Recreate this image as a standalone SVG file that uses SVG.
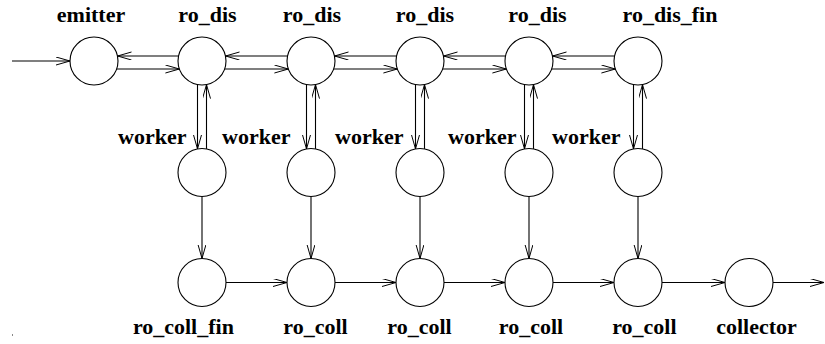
<svg xmlns="http://www.w3.org/2000/svg" width="825" height="344" viewBox="0 0 825 344">
<defs>
<marker id="ah" markerUnits="userSpaceOnUse" markerWidth="16" markerHeight="10" refX="14" refY="4" orient="auto">
<path d="M0,0 L14,4 L0,8" fill="none" stroke="#000" stroke-width="1"/>
</marker>
<style>
.n{fill:#fff;stroke:#000;stroke-width:1.1}
.c line{stroke:#000;stroke-width:1.1;marker-end:url(#ah)}
text{font-family:"Liberation Serif","Times New Roman",serif;font-weight:bold;font-size:22px;fill:#000}
.m{text-anchor:middle}
</style>
</defs>
<rect width="825" height="344" fill="#fff"/>
<g class="c" id="connectors">
<line x1="12" y1="61" x2="70" y2="61"/>
<line x1="178.5" y1="56" x2="117.5" y2="56"/>
<line x1="116.6" y1="69" x2="179.4" y2="69"/>
<line x1="287.5" y1="56" x2="225.5" y2="56"/>
<line x1="224.6" y1="69" x2="288.4" y2="69"/>
<line x1="396.5" y1="56" x2="334.5" y2="56"/>
<line x1="333.6" y1="69" x2="397.4" y2="69"/>
<line x1="505.5" y1="56" x2="443.5" y2="56"/>
<line x1="442.6" y1="69" x2="506.4" y2="69"/>
<line x1="614.5" y1="56" x2="552.5" y2="56"/>
<line x1="551.6" y1="69" x2="615.4" y2="69"/>
<line x1="197.5" y1="84.6" x2="197.5" y2="148.9"/>
<line x1="206.5" y1="148.9" x2="206.5" y2="84.6"/>
<line x1="306.5" y1="84.6" x2="306.5" y2="148.9"/>
<line x1="315.5" y1="148.9" x2="315.5" y2="84.6"/>
<line x1="415.5" y1="84.6" x2="415.5" y2="148.9"/>
<line x1="424.5" y1="148.9" x2="424.5" y2="84.6"/>
<line x1="524.5" y1="84.6" x2="524.5" y2="148.9"/>
<line x1="533.5" y1="148.9" x2="533.5" y2="84.6"/>
<line x1="633.5" y1="84.6" x2="633.5" y2="148.9"/>
<line x1="642.5" y1="148.9" x2="642.5" y2="84.6"/>
<line x1="202" y1="196.5" x2="202" y2="258.5"/>
<line x1="311" y1="196.5" x2="311" y2="258.5"/>
<line x1="420" y1="196.5" x2="420" y2="258.5"/>
<line x1="529" y1="196.5" x2="529" y2="258.5"/>
<line x1="638" y1="196.5" x2="638" y2="258.5"/>
<line x1="226" y1="282.5" x2="287" y2="282.5"/>
<line x1="335" y1="282.5" x2="396" y2="282.5"/>
<line x1="444" y1="282.5" x2="505" y2="282.5"/>
<line x1="553" y1="282.5" x2="614" y2="282.5"/>
<line x1="662" y1="282.5" x2="725" y2="282.5"/>
<line x1="773" y1="282.5" x2="824" y2="282.5"/>
</g>
<g id="emitter"><circle class="n" cx="94" cy="61" r="24"/><text class="m" x="91" y="22">emitter</text></g>
<g id="ro_dis1"><circle class="n" cx="202" cy="61" r="24"/><text class="m" x="207.5" y="22">ro_dis</text></g>
<g id="ro_dis2"><circle class="n" cx="311" cy="61" r="24"/><text class="m" x="312" y="22">ro_dis</text></g>
<g id="ro_dis3"><circle class="n" cx="420" cy="61" r="24"/><text class="m" x="425" y="22">ro_dis</text></g>
<g id="ro_dis4"><circle class="n" cx="529" cy="61" r="24"/><text class="m" x="537.5" y="22">ro_dis</text></g>
<g id="ro_dis_fin"><circle class="n" cx="638" cy="61" r="24"/><text class="m" x="670" y="22">ro_dis_fin</text></g>
<g id="worker1"><circle class="n" cx="202" cy="172.5" r="24"/><text x="118" y="144">worker</text></g>
<g id="worker2"><circle class="n" cx="311" cy="172.5" r="24"/><text x="222" y="144">worker</text></g>
<g id="worker3"><circle class="n" cx="420" cy="172.5" r="24"/><text x="335" y="144">worker</text></g>
<g id="worker4"><circle class="n" cx="529" cy="172.5" r="24"/><text x="448" y="144">worker</text></g>
<g id="worker5"><circle class="n" cx="638" cy="172.5" r="24"/><text x="552" y="144">worker</text></g>
<g id="ro_coll_fin"><circle class="n" cx="202" cy="282.5" r="24"/><text class="m" x="183.4" y="334">ro_coll_fin</text></g>
<g id="ro_coll1"><circle class="n" cx="311" cy="282.5" r="24"/><text class="m" x="315.5" y="334">ro_coll</text></g>
<g id="ro_coll2"><circle class="n" cx="420" cy="282.5" r="24"/><text class="m" x="419.5" y="334">ro_coll</text></g>
<g id="ro_coll3"><circle class="n" cx="529" cy="282.5" r="24"/><text class="m" x="531" y="334">ro_coll</text></g>
<g id="ro_coll4"><circle class="n" cx="638" cy="282.5" r="24"/><text class="m" x="644.4" y="334">ro_coll</text></g>
<g id="collector"><circle class="n" cx="749" cy="282.5" r="24"/><text class="m" x="756.5" y="334">collector</text></g>
<rect x="12" y="334" width="1" height="2" fill="#888"/>
</svg>
